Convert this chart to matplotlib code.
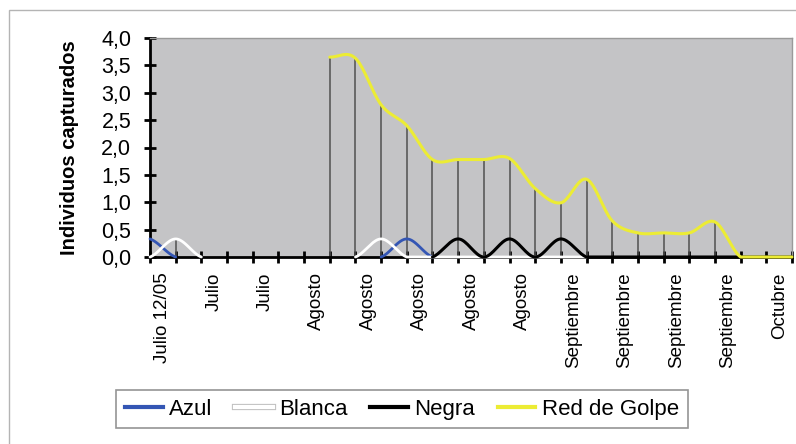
import numpy as np
import matplotlib
matplotlib.use('Agg')
import matplotlib.pyplot as plt
from matplotlib.lines import Line2D
from matplotlib.patches import Rectangle
import matplotlib.patheffects as pe

plt.rcParams['font.family'] = ['Liberation Sans', 'DejaVu Sans']

nan = np.nan

# one value per sampling date (26 dates), nan = no line drawn there
azul = [0.33, 0, nan, nan, nan, nan, nan, nan, nan, 0, 0.33, 0, nan,
        nan, nan, nan, nan, nan, nan, nan, nan, nan, nan, nan, nan, nan]
blanca = [0, 0.33, 0, nan, nan, nan, nan, nan, 0, 0.33, 0, 0, 0,
          0, 0, 0, 0, 0, nan, nan, nan, nan, nan, nan, nan, nan]
negra = [nan, nan, nan, nan, nan, nan, nan, nan, nan, nan, nan, 0, 0.33,
         0, 0.33, 0, 0.33, 0, 0, 0, 0, 0, 0, 0, 0, 0]
red_golpe = [nan, nan, nan, nan, nan, nan, nan, 3.65, 3.63, 2.78, 2.40, 1.78, 1.78,
             1.78, 1.80, 1.25, 0.99, 1.42, 0.66, 0.44, 0.44, 0.44, 0.64, 0, 0, 0]

fechas = ['Julio 12/05', 'Julio', 'Julio', 'Agosto', 'Agosto', 'Agosto', 'Agosto',
          'Agosto', 'Septiembre', 'Septiembre', 'Septiembre', 'Septiembre', 'Octubre']
yticks = [0, 0.5, 1, 1.5, 2, 2.5, 3, 3.5, 4]

series = [('Azul', azul, '#3456b4'),
          ('Blanca', blanca, '#ffffff'),
          ('Negra', negra, '#000000'),
          ('Red de Golpe', red_golpe, '#ecec34')]


def smooth(x, y, n=20):
    """
    Excel-like smoothed line (Catmull-Rom) through each run of valid points,
    cut at the bottom of the plot like Excel does
    :return: list of (xs, ys) pieces
    """
    x = np.asarray(x, float)
    y = np.asarray(y, float)
    ok = ~np.isnan(y)
    pieces = []
    i = 0
    while i < len(y):
        if not ok[i]:
            i += 1
            continue
        j = i
        while j < len(y) and ok[j]:
            j += 1
        px, py = x[i:j], y[i:j]
        if len(px) < 2:
            i = j
            continue
        xs, ys = [], []
        for k in range(len(px) - 1):
            p0 = py[k - 1] if k > 0 else py[k]
            p3 = py[k + 2] if k + 2 < len(py) else py[k + 1]
            p1, p2 = py[k], py[k + 1]
            c1 = p1 + (p2 - p0) / 6
            c2 = p2 - (p3 - p1) / 6
            t = np.linspace(0, 1, n)
            xs.append(px[k] + t * (px[k + 1] - px[k]))
            ys.append((1 - t) ** 3 * p1 + 3 * (1 - t) ** 2 * t * c1 + 3 * (1 - t) * t ** 2 * c2 + t ** 3 * p2)
        pieces.append((np.concatenate(xs), np.maximum(np.concatenate(ys), 0)))
        i = j
    return pieces


x = np.arange(len(red_golpe))

fig = plt.figure(figsize=(7.96, 4.44), dpi=100)
fig.patches.append(Rectangle((9 / 796, -0.1), 1.2, 1 - 10 / 444 + 0.1, transform=fig.transFigure,
                             fill=False, edgecolor='#b4b4b4', linewidth=1))
ax = fig.add_axes([150 / 796, 1 - 257 / 444, 642 / 796, 219 / 444])
ax.set_facecolor('#c4c4c6')

# drop lines from the highest series to the axis
tops = np.nanmax(np.array([azul, blanca, negra, red_golpe], float), axis=0)
has = tops > 0
ax.vlines(x[has], 0, tops[has], color='#505050', linewidth=1.1, zorder=2)

widths = {'Azul': 2.0, 'Blanca': 2.0, 'Negra': 2.2, 'Red de Golpe': 2.2}
for name, vals, col in series:
    for xs, ys in smooth(x, vals):
        ax.plot(xs, ys, color=col, linewidth=widths[name], zorder=3, clip_on=False,
                solid_capstyle='round')

ax.set_xlim(0, len(red_golpe) - 1)
ax.set_ylim(0, 4)

ax.set_xticks(x)
ax.set_xticklabels([])
ax.tick_params(axis='x', which='major', direction='inout', length=9, width=2, color='black')
ax.set_xticks(np.arange(len(fechas)) * 2 + 0.5, fechas, minor=True, rotation=90, fontsize=13.5)
ax.tick_params(axis='x', which='minor', length=0, pad=11)

ax.set_yticks(yticks, [f'{v:.1f}'.replace('.', ',') for v in yticks], fontsize=15.5)
ax.tick_params(axis='y', direction='inout', length=9, width=2, color='black', pad=9)

ax.set_ylabel('Individuos capturados', fontsize=14.5, fontweight='bold')
ax.yaxis.set_label_coords(-0.11, 0.5)

for s in ['left', 'bottom']:
    ax.spines[s].set_linewidth(2)
    ax.spines[s].set_color('black')
for s in ['top', 'right']:
    ax.spines[s].set_linewidth(1)
    ax.spines[s].set_color('#9a9a9a')

handles = []
for name, vals, col in series:
    h = Line2D([], [], color=col, linewidth=3)
    if name == 'Blanca':
        h.set_path_effects([pe.Stroke(linewidth=4.5, foreground='#c0c0c0'), pe.Normal()])
    handles.append(h)
leg = fig.legend(handles, [s[0] for s in series], ncol=4, loc='center',
                 bbox_to_anchor=(402 / 796, 1 - 409 / 444), fontsize=16, frameon=True,
                 fancybox=False, handlelength=1.7, handletextpad=0.3, columnspacing=1.0,
                 borderpad=0.4)
leg.get_frame().set_edgecolor('#7a7a7a')
leg.get_frame().set_linewidth(1.2)

fig.savefig('out.png', dpi=100)
